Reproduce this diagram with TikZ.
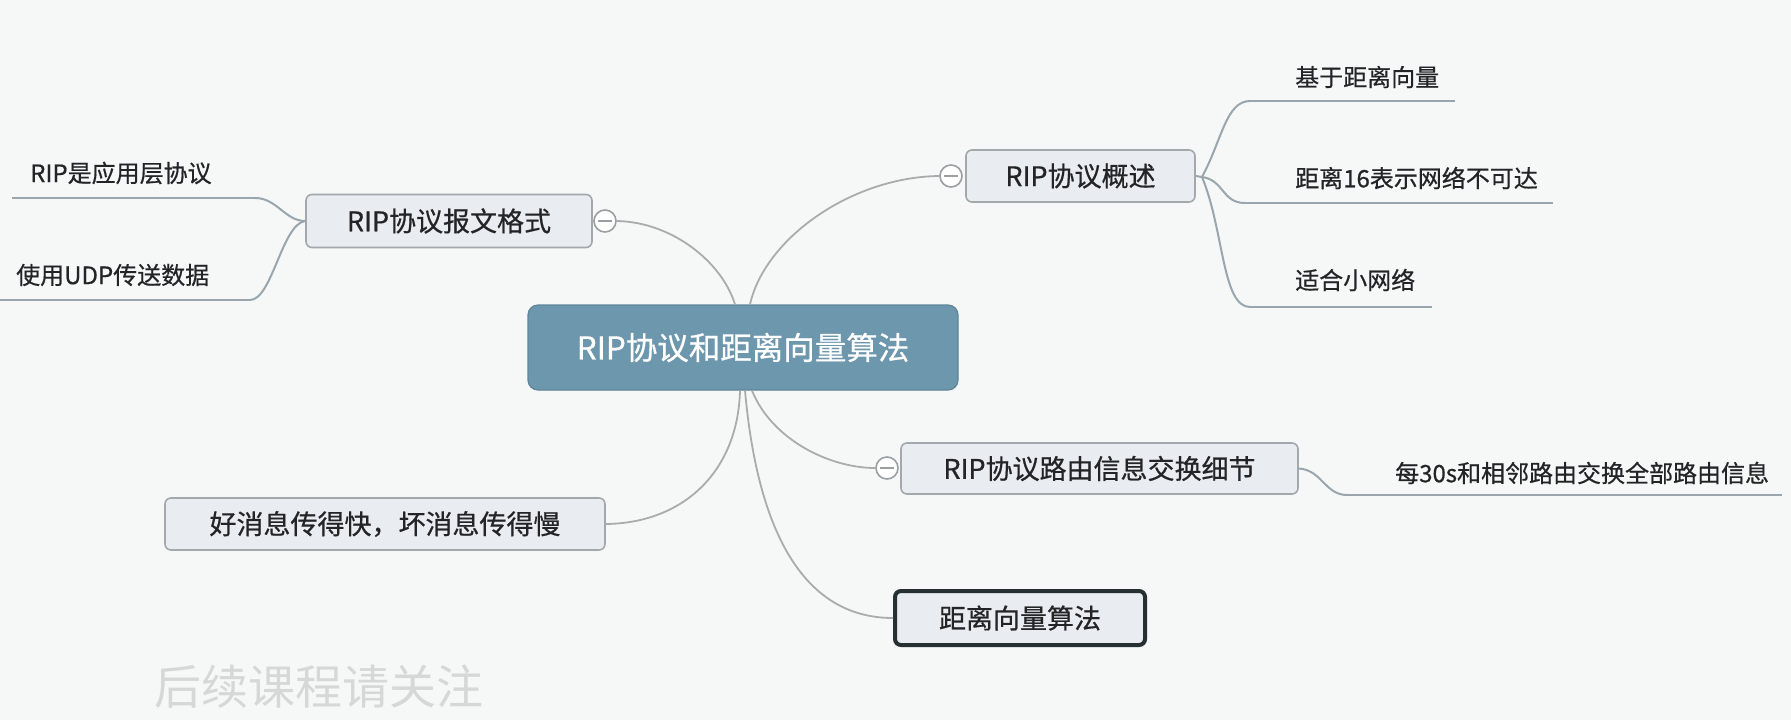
\documentclass[tikz,border=0pt]{standalone}
\usepackage{fontspec}
\setmainfont{Noto Sans CJK SC}[FakeBold=0.6]
\newfontfamily\wmfont{Noto Sans CJK SC}
\definecolor{bgcol}{HTML}{F6F8F8}
\definecolor{boxfill}{HTML}{E9ECF0}
\definecolor{boxline}{HTML}{A3A8AC}
\definecolor{centfill}{HTML}{6D97AD}
\definecolor{centline}{HTML}{5E8599}
\definecolor{conncol}{HTML}{A9ABAD}
\definecolor{leafcol}{HTML}{9AA6AE}
\definecolor{togcol}{HTML}{9C9FA2}
\definecolor{txt}{HTML}{222426}
\definecolor{wm}{HTML}{D6D8D8}
\definecolor{darkline}{HTML}{263032}
\begin{document}
\begin{tikzpicture}[x=1pt,y=-1pt,
  centernode/.style={draw=centline, line width=1.2pt, fill=centfill, rounded corners=10pt, text=white,
    minimum width=430pt, minimum height=85pt, inner sep=0pt, font=\fontsize{31.5}{36}\selectfont},
  branch/.style={draw=boxline, line width=1.6pt, fill=boxfill, rounded corners=6pt, text=txt,
    inner sep=0pt, font=\fontsize{27}{31}\selectfont},
  keybranch/.style={branch, draw=darkline, line width=4pt},
  leaftext/.style={anchor=west, inner sep=0pt, text=txt, font=\fontsize{24}{28}\selectfont},
  conn/.style={draw=conncol, line width=1.8pt},
  leafline/.style={draw=leafcol, line width=2.2pt},
  toggle/.style={circle, draw=togcol, line width=1.6pt, fill=white, minimum size=22pt, inner sep=0pt,
    path picture={\draw[togcol, line width=2.2pt] ([xshift=-7pt]path picture bounding box.center) -- ([xshift=7pt]path picture bounding box.center);}},
  watermark/.style={anchor=west, inner sep=0pt, text=wm, font=\wmfont\fontsize{47}{52}\selectfont}
]
\useasboundingbox (0,0) rectangle (1791,720);
\fill[bgcol] (0,0) rectangle (1791,720);

% central node
\node[centernode] (c) at (743,347.5) {RIP协议和距离向量算法};

% branch nodes
\node[branch, minimum width=286pt, minimum height=53pt] (b1) at (449,221) {RIP协议报文格式};
\node[branch, minimum width=229pt, minimum height=52pt] (b2) at (1080.5,176) {RIP协议概述};
\node[branch, minimum width=397pt, minimum height=51pt] (b3) at (1099.5,468.5) {RIP协议路由信息交换细节};
\node[branch, minimum width=440pt, minimum height=52pt] (b4) at (385,524) {好消息传得快，坏消息传得慢};
\node[keybranch, minimum width=250pt, minimum height=54pt] (b5) at (1020,618) {距离向量算法};

% collapse toggles
\node[toggle] (t1) at (605,221) {};
\node[toggle] (t2) at (951,176) {};
\node[toggle] (t3) at (887,468) {};

% connectors from central node
\draw[conn] ([xshift=-8pt]c.north) .. controls (722,262) and (672,222) .. (t1.east);
\draw[conn] ([xshift=7pt]c.north) .. controls (765,238) and (852,177) .. (t2.west);
\draw[conn] ([xshift=9pt]c.south) .. controls (772,440) and (830,468) .. (t3.west);
\draw[conn] ([xshift=2pt]c.south) .. controls (757,525) and (800,618) .. (b5.west);
\draw[conn] ([xshift=-3pt]c.south) .. controls (738,470) and (685,523) .. (b4.east);

% leaves of RIP协议报文格式
\node[leaftext] (l1) at (30,173) {RIP是应用层协议};
\node[leaftext] (l2) at (16,275) {使用UDP传送数据};
\coordinate (l1a) at (255,198); \coordinate (l1b) at (12,198);
\coordinate (l2a) at (250,300); \coordinate (l2b) at (0,300);
\draw[leafcol, line width=2pt] (b1.west) .. controls (285,221) and (277,198) .. (l1a);
\draw[leafline] (l1a) -- (l1b);
\draw[leafcol, line width=2pt] (b1.west) .. controls (282,224) and (272,300) .. (l2a);
\draw[leafline] (l2a) -- (l2b);

% leaves of RIP协议概述
\coordinate (j2) at (1202,177);
\node[leaftext] (r1) at (1295,77) {基于距离向量};
\node[leaftext] (r2) at (1295,178) {距离16表示网络不可达};
\node[leaftext] (r3) at (1295,280) {适合小网络};
\coordinate (r1a) at (1250,101); \coordinate (r1b) at (1455,101);
\coordinate (r2a) at (1245,203); \coordinate (r2b) at (1553,203);
\coordinate (r3a) at (1250,307); \coordinate (r3b) at (1432,307);
\draw[leafcol, line width=2pt] (b2.east) -- (j2) .. controls (1222,140) and (1226,101) .. (r1a);
\draw[leafline] (r1a) -- (r1b);
\draw[leafcol, line width=2pt] (j2) .. controls (1224,180) and (1222,203) .. (r2a);
\draw[leafline] (r2a) -- (r2b);
\draw[leafcol, line width=2pt] (j2) .. controls (1224,230) and (1222,307) .. (r3a);
\draw[leafline] (r3a) -- (r3b);

% leaf of RIP协议路由信息交换细节
\node[leaftext] (s1) at (1395,473) {每30s和相邻路由交换全部路由信息};
\coordinate (s1a) at (1347,495); \coordinate (s1b) at (1782,495);
\draw[leafcol, line width=2pt] (b3.east) .. controls (1322,470) and (1325,495) .. (s1a);
\draw[leafline] (s1a) -- (s1b);

% watermark
\node[watermark] (wm) at (154,687) {后续课程请关注};
\end{tikzpicture}
\end{document}
